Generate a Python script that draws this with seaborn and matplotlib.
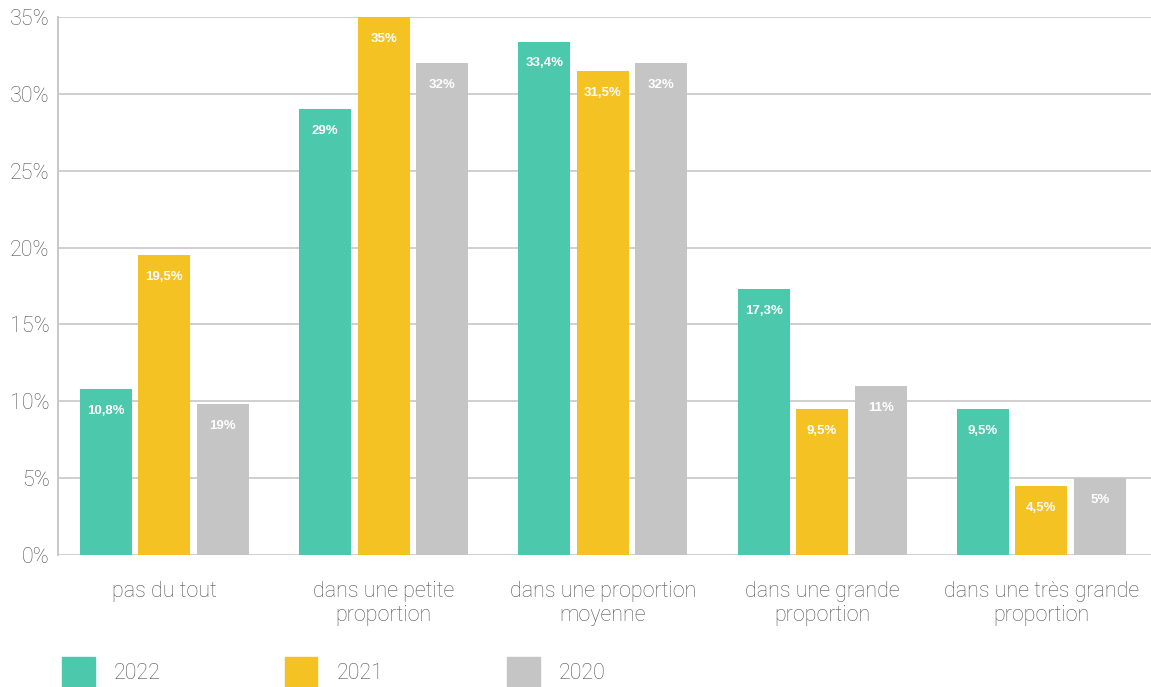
import matplotlib
matplotlib.use("Agg")
import matplotlib.pyplot as plt
import seaborn as sns
import pandas as pd

categories = ["pas du tout", "dans une petite\nproportion", "dans une proportion\nmoyenne",
              "dans une grande\nproportion", "dans une très grande\nproportion"]
years = ["2022", "2021", "2020"]
values_2022 = [10.8, 29.0, 33.4, 17.3, 9.5]
values_2021 = [19.5, 35.0, 31.5, 9.5, 4.5]
values_2020 = [9.8, 32.0, 32.0, 11.0, 5.0]
labels_2022 = ["10,8%", "29%", "33,4%", "17,3%", "9,5%"]
labels_2021 = ["19,5%", "35%", "31,5%", "9,5%", "4,5%"]
labels_2020 = ["19%", "32%", "32%", "11%", "5%"]
yticks = [0, 5, 10, 15, 20, 25, 30, 35]

colors = ["#4CC8AC", "#F5C224", "#C5C5C5"]
text_gray = "#555555"

rows = []
for yr, vals in zip(years, [values_2022, values_2021, values_2020]):
    for c, v in zip(categories, vals):
        rows.append({"categorie": c, "annee": yr, "valeur": v})
df = pd.DataFrame(rows)

sns.set_theme(style="white")
plt.rcParams["font.family"] = ["Roboto", "DejaVu Sans"]

fig = plt.figure(figsize=(11.51, 6.87), dpi=100)
ax = fig.add_axes([58 / 1151, 1 - 555 / 687, 1 - 58 / 1151, (555 - 17) / 687])

sns.barplot(data=df, x="categorie", y="valeur", hue="annee", order=categories,
            hue_order=years, palette=colors, width=0.8, gap=0.11,
            saturation=1, linewidth=0, ax=ax, legend=False)

for cont, labs in zip(ax.containers, [labels_2022, labels_2021, labels_2020]):
    ax.bar_label(cont, labels=labs, padding=-20, color="white",
                 fontsize=9.5, fontweight="bold", family="Liberation Sans")

ax.set_ylim(0, 35)
ax.set_xlim(-0.485, 4.5)
ax.set_yticks(yticks)
ax.set_yticklabels([f"{t}%" for t in yticks])
ax.yaxis.grid(True, color="#CFCFCF", linewidth=1.4)
ax.set_axisbelow(True)
ax.set_xlabel("")
ax.set_ylabel("")
for s in ["top", "right", "bottom"]:
    ax.spines[s].set_visible(False)
ax.spines["left"].set_color("#C8C8C8")
ax.spines["left"].set_linewidth(1.4)
ax.tick_params(axis="y", length=0, pad=6, labelsize=15.5, labelcolor=text_gray)
ax.tick_params(axis="x", length=0, pad=19, labelsize=15.5, labelcolor=text_gray)
for t in ax.get_xticklabels() + ax.get_yticklabels():
    t.set_fontweight("light")
    t.set_linespacing(1.15)

handles = [plt.Rectangle((0, 0), 1, 1, color=c) for c in colors]
leg = fig.legend(handles, years, loc="lower left", bbox_to_anchor=(62 / 1151, 0.0),
                 ncol=3, frameon=False, fontsize=15.5, handlelength=1.53,
                 handleheight=1.8, handletextpad=0.88, columnspacing=5.75,
                 borderpad=0, borderaxespad=0)
for t in leg.get_texts():
    t.set_color(text_gray)
    t.set_fontweight("light")

fig.savefig("out.png", dpi=100)
